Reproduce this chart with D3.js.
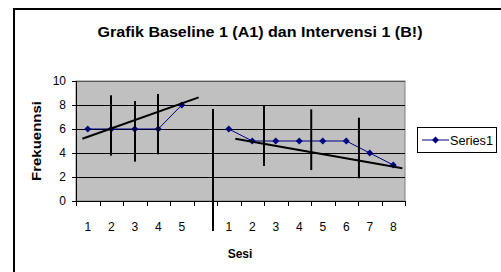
<!DOCTYPE html>
<html>
<head>
<meta charset="utf-8">
<script src="https://cdn.jsdelivr.net/npm/d3@7"></script>
<style>
  body { margin: 0; background: #fff; }
  text { font-family: "Liberation Sans", Arial, sans-serif; fill: #000; }
  .axis path, .axis line { stroke: #000; shape-rendering: crispEdges; }
  .axis text { font-size: 12px; font-family: "Liberation Sans", Arial, sans-serif; }
</style>
</head>
<body>
<svg id="chart" width="501" height="272"></svg>
<script>
// session labels (baseline A1, empty gap, intervention B1)
var sesi = ["1", "2", "3", "4", "5", "", "1", "2", "3", "4", "5", "6", "7", "8"];
var frekuensi = [6, 6, 6, 6, 8, null, 6, 5, 5, 5, 5, 5, 4, 3];
var yTicks = [0, 2, 4, 6, 8, 10];

// hand drawn lines on top of the chart, in category units (u) and values (v)
var trendA = [[0.27, 5.19], [5.22, 8.64]];
var trendB = [[6.78, 5.19], [13.89, 2.73]];
var rangeLines = [
  {u: 1.49, lo: 3.78, hi: 8.81},
  {u: 2.51, lo: 3.28, hi: 8.33},
  {u: 3.49, lo: 3.89, hi: 8.92},
  {u: 8.0, lo: 2.92, hi: 7.94},
  {u: 10.01, lo: 2.58, hi: 7.64},
  {u: 12.04, lo: 1.89, hi: 6.94}
];
var divider = {u: 5.83, lo: -2.5, hi: 7.67};

var svg = d3.select("#chart");
var plot = {left: 76, right: 405, top: 81, bottom: 201};

// outer chart border
svg.append("rect")
  .attr("x", 14).attr("y", 9)
  .attr("width", 500).attr("height", 280)
  .attr("fill", "#fff")
  .attr("stroke", "#000")
  .attr("stroke-width", 2);

var x = d3.scaleBand()
  .domain(d3.range(sesi.length))
  .range([plot.left, plot.right])
  .paddingInner(0).paddingOuter(0);

// same axis but continuous, for the drawn lines and boundary ticks
var xu = d3.scaleLinear()
  .domain([0, sesi.length])
  .range([plot.left, plot.right]);

var y = d3.scaleLinear()
  .domain([0, 10])
  .range([plot.bottom, plot.top]);

// plot area background
svg.append("rect")
  .attr("x", plot.left).attr("y", plot.top)
  .attr("width", plot.right - plot.left)
  .attr("height", plot.bottom - plot.top)
  .attr("fill", "#c0c0c0")
  .attr("stroke", "#808080")
  .attr("stroke-width", 1);

// gridlines
svg.append("g")
  .selectAll("line")
  .data(yTicks.filter(function(d) { return d > 0; }))
  .enter().append("line")
  .attr("x1", plot.left).attr("x2", plot.right)
  .attr("y1", function(d) { return Math.round(y(d)) + 0.5; })
  .attr("y2", function(d) { return Math.round(y(d)) + 0.5; })
  .attr("stroke", function(d) { return d == 10 ? "#555" : "#000"; })
  .attr("stroke-width", 1);

// y axis
svg.append("g")
  .attr("class", "axis")
  .attr("transform", "translate(" + plot.left + ",0)")
  .call(d3.axisLeft(y).tickValues(yTicks).tickSize(4).tickPadding(6).tickSizeOuter(0))
  .call(function(g) { g.select(".domain").attr("d", "M0.5," + plot.top + "V" + plot.bottom); });

// x axis: ticks on category boundaries
svg.append("g")
  .attr("class", "axis")
  .attr("transform", "translate(0," + plot.bottom + ")")
  .call(d3.axisBottom(xu).tickValues(d3.range(sesi.length + 1)).tickFormat("").tickSize(5).tickSizeOuter(0));

// x labels at category centres
svg.append("g")
  .selectAll("text")
  .data(sesi)
  .enter().append("text")
  .attr("x", function(d, i) { return x(i) + x.bandwidth() / 2; })
  .attr("y", 231)
  .attr("text-anchor", "middle")
  .style("font-size", "12px")
  .text(function(d) { return d; });

// series line, broken at the gap
var line = d3.line()
  .defined(function(d) { return d != null; })
  .x(function(d, i) { return x(i) + x.bandwidth() / 2; })
  .y(function(d) { return y(d); });

svg.append("path")
  .datum(frekuensi)
  .attr("d", line)
  .attr("fill", "none")
  .attr("stroke", "#000080")
  .attr("stroke-width", 1);

// diamond markers = rotated squares
var diamond = d3.symbol().type(d3.symbolSquare).size(24);

svg.append("g")
  .selectAll("path")
  .data(frekuensi.map(function(d, i) { return {i: i, v: d}; })
    .filter(function(d) { return d.v != null; }))
  .enter().append("path")
  .attr("d", diamond)
  .attr("fill", "#000080")
  .attr("transform", function(d) {
    return "translate(" + (x(d.i) + x.bandwidth() / 2) + "," + y(d.v) + ") rotate(45)";
  });

// trend lines
var trend = d3.line()
  .x(function(d) { return xu(d[0]); })
  .y(function(d) { return y(d[1]); });

svg.append("g")
  .selectAll("path")
  .data([trendA, trendB])
  .enter().append("path")
  .attr("d", trend)
  .attr("stroke", "#000")
  .attr("stroke-width", 2)
  .attr("fill", "none");

// vertical range lines and phase divider
svg.append("g")
  .selectAll("line")
  .data(rangeLines.concat([divider]))
  .enter().append("line")
  .attr("x1", function(d) { return xu(d.u); })
  .attr("x2", function(d) { return xu(d.u); })
  .attr("y1", function(d) { return y(d.hi); })
  .attr("y2", function(d) { return y(d.lo); })
  .attr("stroke", "#000")
  .attr("stroke-width", 2);

// title
svg.append("text")
  .attr("x", 260)
  .attr("y", 37)
  .attr("text-anchor", "middle")
  .attr("textLength", 325)
  .attr("lengthAdjust", "spacingAndGlyphs")
  .style("font-size", "14px")
  .style("font-weight", "bold")
  .text("Grafik Baseline 1 (A1) dan Intervensi 1 (B!)");

// axis titles
svg.append("text")
  .attr("x", 240)
  .attr("y", 258)
  .attr("text-anchor", "middle")
  .style("font-size", "12px")
  .style("font-weight", "bold")
  .text("Sesi");

svg.append("text")
  .attr("transform", "translate(41,141) rotate(-90)")
  .attr("text-anchor", "middle")
  .attr("textLength", 80)
  .attr("lengthAdjust", "spacingAndGlyphs")
  .style("font-size", "13px")
  .style("font-weight", "bold")
  .text("Frekuennsi");

// legend
var legend = svg.append("g").attr("transform", "translate(417,127)");
legend.append("rect")
  .attr("x", 0.5).attr("y", 0.5)
  .attr("width", 79).attr("height", 25)
  .attr("fill", "#fff")
  .attr("stroke", "#000");
legend.append("line")
  .attr("x1", 5).attr("x2", 32)
  .attr("y1", 13).attr("y2", 13)
  .attr("stroke", "#000080");
legend.append("path")
  .attr("d", diamond)
  .attr("fill", "#000080")
  .attr("transform", "translate(18.5,13) rotate(45)");
legend.append("text")
  .attr("x", 33)
  .attr("y", 17.5)
  .attr("textLength", 43)
  .attr("lengthAdjust", "spacingAndGlyphs")
  .style("font-size", "13px")
  .text("Series1");
</script>
</body>
</html>
